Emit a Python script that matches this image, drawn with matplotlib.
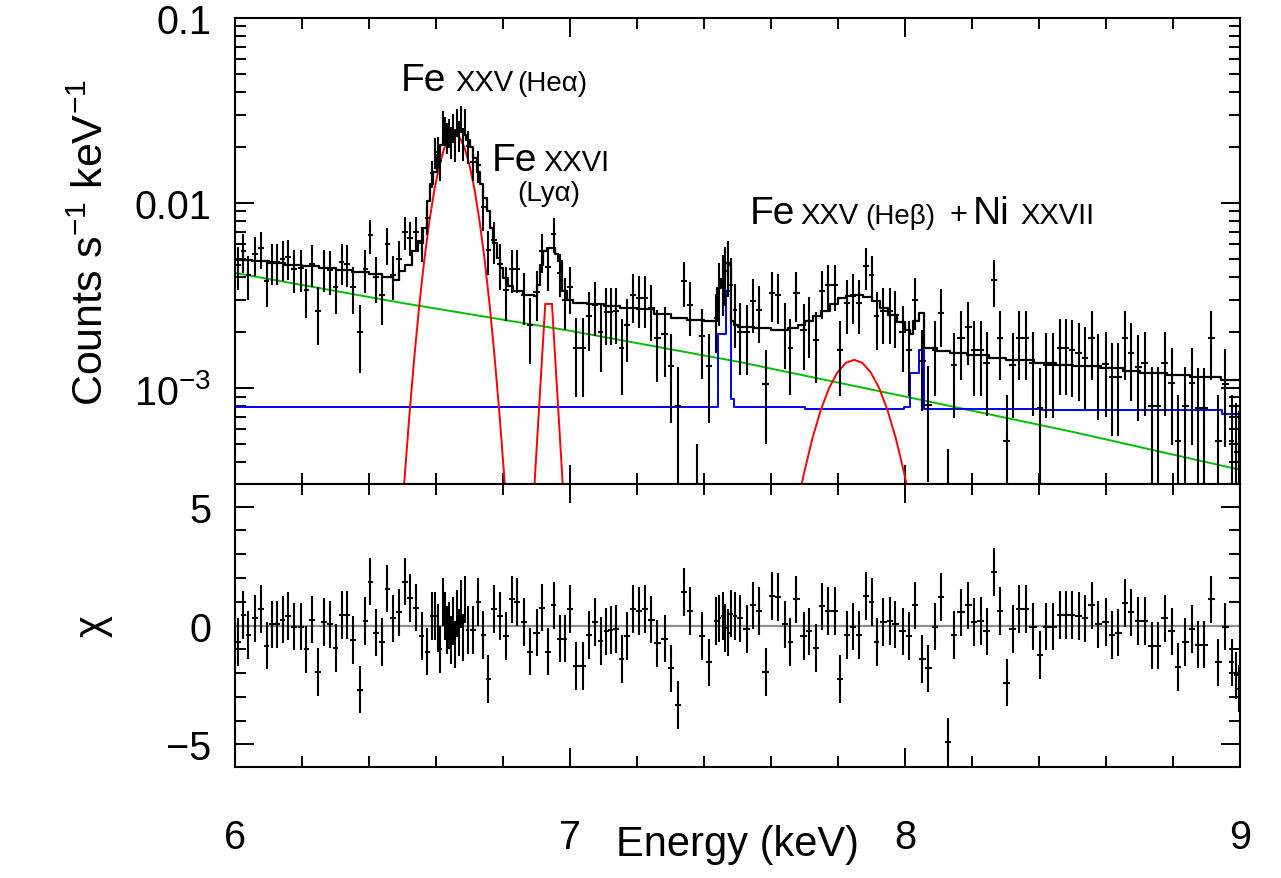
import numpy as np
import matplotlib
matplotlib.use("Agg")
import matplotlib.pyplot as plt
from matplotlib.ticker import MultipleLocator, LogLocator, NullFormatter

plt.rcParams['font.family'] = ['Liberation Sans', 'DejaVu Sans']
plt.rcParams['mathtext.fontset'] = 'custom'
plt.rcParams['mathtext.rm'] = 'Liberation Sans'
plt.rcParams['mathtext.it'] = 'Liberation Sans:italic'

# --- data bins (keV), flux (1e-3 counts/s/keV), flux error, residual chi ---
energy = [6.008, 6.025, 6.040, 6.060, 6.077, 6.094, 6.110, 6.126, 6.142, 6.158,
          6.175, 6.196, 6.213, 6.230, 6.247, 6.265, 6.284, 6.300, 6.318, 6.334,
          6.352, 6.372, 6.389, 6.404, 6.421, 6.438, 6.455, 6.471, 6.490, 6.507,
          6.523, 6.540, 6.557, 6.574, 6.588,
          6.598, 6.606, 6.613, 6.620, 6.626, 6.632, 6.638, 6.644, 6.650, 6.656,
          6.662, 6.668, 6.674, 6.680, 6.687, 6.694,
          6.710, 6.726, 6.741, 6.756, 6.774, 6.791, 6.808, 6.826, 6.842, 6.862,
          6.880, 6.900, 6.917, 6.935, 6.951, 6.969, 6.984, 7.000, 7.019, 7.039,
          7.057, 7.075, 7.091, 7.108, 7.122, 7.137, 7.154, 7.171, 7.188, 7.207,
          7.223, 7.243, 7.261, 7.283, 7.301, 7.322, 7.339, 7.358, 7.378, 7.395,
          7.415, 7.436, 7.446, 7.456, 7.463, 7.473, 7.480, 7.493, 7.507, 7.527,
          7.547, 7.565, 7.584, 7.603, 7.621, 7.641, 7.658, 7.676, 7.697, 7.714,
          7.735, 7.752, 7.771, 7.791, 7.807, 7.827, 7.845, 7.863, 7.884, 7.900,
          7.915, 7.935, 7.954, 7.971, 7.993, 8.013, 8.030, 8.052, 8.070, 8.090,
          8.108, 8.129, 8.146, 8.167, 8.189, 8.205, 8.226, 8.244, 8.266, 8.284,
          8.303, 8.321, 8.341, 8.361, 8.382, 8.403, 8.422, 8.442, 8.464, 8.480,
          8.499, 8.518, 8.537, 8.557, 8.577, 8.599, 8.617, 8.637, 8.656, 8.675,
          8.696, 8.715, 8.736, 8.755, 8.775, 8.796, 8.815, 8.836, 8.856, 8.875,
          8.894, 8.914, 8.935, 8.956, 8.975, 8.988, 8.996]

flux = [4.6, 5.5, 4.1, 5.3, 5.7, 3.8, 4.8, 4.8, 5.0, 5.1,
        4.4, 4.45, 3.4, 4.7, 2.6, 4.45, 4.35, 3.5, 4.8, 4.7,
        3.5, 2.0, 4.4, 6.7, 4.0, 3.2, 6.0, 4.1, 5.0, 7.0,
        6.5, 7.0, 6.1, 8.3, 14.5,
        18.9, 19.1, 16.8, 26.9, 24.8, 22.7, 24.2, 21.6, 25.7, 20.8,
        27.4, 23.2, 28.7, 21.1, 27.5, 20.4,
        16.6, 16.0, 9.5, 5.6, 6.3, 4.7, 3.4, 4.4, 4.4, 3.2,
        2.2, 3.3, 5.5, 4.5, 6.8, 4.2, 3.0, 3.5, 1.64, 1.64,
        2.44, 2.82, 2.02, 2.59, 2.59, 2.6, 1.64, 2.2, 3.19, 3.06,
        3.06, 2.7, 1.86, 1.95, 1.31, 0.80, 3.78, 2.82, 0.22, 1.9,
        1.31, 2.39, 3.47, 3.85, 4.27, 4.65, 3.62, 2.65, 2.02, 2.0,
        2.94, 2.65, 1.05, 3.26, 3.19, 2.07, 1.64, 3.26, 2.05, 2.29,
        1.82, 3.33, 3.62, 3.62, 1.61, 2.9, 3.19, 2.9, 4.55, 4.09,
        2.45, 2.6, 2.6, 2.49, 2.0, 1.61, 3.0, 1.4, 0.81, 1.61,
        2.54, 0.2, 1.34, 1.86, 2.13, 1.61, 1.61, 1.36, 3.85, 1.86,
        0.52, 1.34, 1.86, 1.86, 1.36, 0.78, 1.34, 1.34, 1.64, 1.64,
        1.61, 1.55, 1.45, 1.86, 1.31, 1.35, 1.15, 1.15, 1.86, 1.55,
        1.3, 1.36, 0.80, 0.80, 1.36, 1.07, 0.52, 0.80, 1.07, 0.78,
        0.78, 1.86, 0.52, 1.05, 0.52, 0.45, 0.40]

flux_err = [1.2, 1.3, 1.1, 1.25, 1.3, 1.05, 1.2, 1.2, 1.2, 1.25,
            1.15, 1.15, 1.0, 1.2, 0.9, 1.15, 1.15, 1.0, 1.2, 1.2,
            1.0, 0.8, 1.15, 1.4, 1.1, 1.0, 1.35, 1.1, 1.2, 1.4,
            1.35, 1.4, 1.3, 1.6, 2.4,
            3.6, 3.7, 3.6, 4.5, 4.4, 4.3, 4.4, 4.3, 4.5, 4.2,
            4.7, 4.4, 4.8, 4.2, 4.6, 4.1,
            3.4, 3.1, 2.4, 1.5, 1.6, 1.3, 1.1, 1.15, 1.15, 1.0,
            0.85, 1.0, 1.3, 1.15, 1.45, 1.1, 0.95, 1.0, 0.75, 0.75,
            0.85, 0.9, 0.8, 0.88, 0.88, 0.88, 0.72, 0.82, 0.95, 0.95,
            0.95, 0.9, 0.78, 0.8, 0.66, 0.5, 1.05, 0.9, 0.28, 0.78,
            0.66, 0.85, 1.3, 1.4, 1.5, 1.55, 1.4, 1.0, 0.85, 0.82,
            0.95, 0.9, 0.55, 0.98, 0.97, 0.8, 0.72, 0.98, 0.8, 0.83,
            0.76, 0.98, 1.02, 1.02, 0.7, 0.93, 0.97, 0.93, 1.15, 1.1,
            0.85, 0.87, 0.87, 0.85, 0.78, 0.7, 0.95, 0.65, 0.5, 0.7,
            0.87, 0.27, 0.65, 0.75, 0.8, 0.7, 0.7, 0.65, 1.1, 0.75,
            0.4, 0.65, 0.75, 0.75, 0.65, 0.5, 0.65, 0.65, 0.72, 0.72,
            0.71, 0.7, 0.68, 0.75, 0.64, 0.65, 0.6, 0.6, 0.75, 0.7,
            0.64, 0.65, 0.5, 0.5, 0.65, 0.58, 0.4, 0.5, 0.58, 0.5,
            0.5, 0.75, 0.4, 0.57, 0.4, 0.38, 0.35]

chi = [-0.7, 0.45, -0.4, 0.3, 0.7, -0.85, 0.05, 0.05, 0.25, 0.4,
       -0.05, -0.05, -1.0, 0.25, -1.95, 0.15, 0.05, -0.95, 0.45, 0.45,
       -0.6, -2.7, 0.2, 1.85, -0.3, -0.7, 1.55, 0.3, 0.55, 1.85,
       1.15, 0.75, -0.45, -1.1, 0.4,
       0.4, -0.1, -1.0, 1.0, 0.4, -0.2, 0.0, -0.6, 0.2, -0.8,
       0.5, -0.3, 0.9, -0.5, 1.1, -0.2,
       -0.2, 1.0, -0.4, -2.25, 0.7, 0.4, -0.45, 1.1, 1.0, 0.15,
       -1.1, -0.3, 0.75, -1.1, 0.85, -0.55, -0.55, 0.7, -1.7, -1.7,
       -0.4, 0.15, -0.65, -0.25, -0.2, -0.15, -1.4, -0.45, 0.7, 0.6,
       0.7, 0.25, -0.75, -0.55, -1.8, -3.35, 1.4, 0.6, -7.0, -0.45,
       -1.55, 0.2, 0.3, 0.4, -0.1, -0.3, 0.5, 0.4, 0.3, -0.15,
       0.85, 0.6, -1.95, 1.25, 1.2, 0.05, -0.7, 1.1, -0.45, -0.25,
       -0.95, 0.8, 0.6, 0.6, -2.25, -0.4, -0.05, -0.4, 1.25, 1.0,
       -0.7, 0.15, 0.2, 0.05, -0.25, -0.45, 0.85, -1.4, -1.8, -0.05,
       1.2, -4.9, -0.4, 0.55, 0.85, 0.15, 0.2, -0.25, 2.25, 0.6,
       -2.4, -0.15, 0.7, 0.7, -0.05, -1.25, -0.05, -0.05, 0.45, 0.45,
       0.45, 0.4, 0.3, 0.85, 0.05, 0.15, -0.4, -0.3, 0.95, 0.55,
       0.2, 0.2, -0.85, -0.85, 0.3, -0.25, -1.75, -0.7, -0.15, -0.8,
       -0.8, 1.1, -1.55, -0.05, -1.55, -2.1, -2.65]

# --- model components (keV, 1e-3 counts/s/keV) ---
model_e = [6.000, 6.050, 6.100, 6.150, 6.200, 6.250, 6.300, 6.350, 6.400, 6.440,
           6.470, 6.488, 6.507, 6.527, 6.547, 6.562, 6.572, 6.582, 6.592, 6.602,
           6.612, 6.622, 6.640, 6.660, 6.680, 6.690, 6.700, 6.711, 6.721, 6.731,
           6.741, 6.751, 6.761, 6.771, 6.781, 6.791, 6.801, 6.816, 6.831, 6.861,
           6.891, 6.900, 6.910, 6.920, 6.930, 6.955, 6.965, 6.975, 6.990, 7.010,
           7.050, 7.100, 7.150, 7.200, 7.250, 7.300, 7.350, 7.400, 7.440, 7.450,
           7.462, 7.481, 7.490, 7.500, 7.550, 7.600, 7.650, 7.680, 7.700, 7.725,
           7.750, 7.775, 7.800, 7.825, 7.850, 7.875, 7.900, 7.925, 7.950, 7.975,
           8.000, 8.015, 8.025, 8.043, 8.057, 8.095, 8.135, 8.185, 8.250, 8.300,
           8.384, 8.450, 8.500, 8.583, 8.650, 8.700, 8.782, 8.850, 8.942, 9.000]
model_f = [4.94, 4.85, 4.74, 4.65, 4.55, 4.45, 4.36, 4.25, 4.13, 3.98,
           3.85, 4.27, 4.65, 5.48, 6.21, 7.33, 10.2, 12.6, 14.8, 18.2,
           20.7, 22.4, 24.4, 24.9, 23.4, 22.0, 20.2, 17.5, 14.8, 12.6,
           10.6, 9.0, 7.33, 6.08, 5.05, 4.45, 3.94, 3.55, 3.33, 3.2,
           3.13, 3.62, 4.65, 5.48, 5.72, 5.3, 4.84, 3.33, 3.0, 2.88,
           2.85, 2.77, 2.72, 2.66, 2.52, 2.39, 2.34, 2.31, 3.47, 3.9,
           4.74, 2.29, 2.2, 2.15, 2.11, 2.07, 2.1, 2.2, 2.29, 2.45,
           2.6, 2.85, 3.06, 3.15, 3.19, 3.1, 2.94, 2.72, 2.49, 2.27,
           2.07, 1.95, 2.3, 2.54, 1.64, 1.59, 1.55, 1.51, 1.46, 1.42,
           1.36, 1.33, 1.31, 1.28, 1.24, 1.21, 1.18, 1.15, 1.11, 1.1]

cont_e = [6.0, 6.5, 7.0, 7.5, 8.0, 8.5, 9.0]
cont_f = [4.19, 2.88, 2.04, 1.39, 0.90, 0.58, 0.362]

bkg_e = [6.000, 7.441, 7.466, 7.480, 7.490, 7.700, 7.998, 8.015, 8.043, 8.058, 8.408, 8.945, 9.000]
bkg_f = [0.786, 1.96, 3.33, 0.87, 0.786, 0.775, 0.786, 1.2, 1.61, 0.775, 0.765, 0.726, 0.726]

heA_e = [6.490, 6.505, 6.520, 6.535, 6.550, 6.565, 6.580, 6.595, 6.610, 6.625, 6.640, 6.655,
         6.670, 6.685, 6.700, 6.715, 6.730, 6.745, 6.760, 6.775, 6.790, 6.805, 6.820]
heA_f = [0.123, 0.306, 0.70, 1.46, 2.81, 4.94, 7.96, 11.8, 16.0, 19.9, 22.6, 23.6,
         22.6, 19.9, 16.0, 11.8, 7.96, 4.94, 2.81, 1.46, 0.70, 0.306, 0.123]

lya_e = [6.888, 6.926, 6.946, 6.984]
lya_f = [0.2, 2.85, 2.85, 0.2]

heB_e = [7.678, 7.698, 7.723, 7.748, 7.773, 7.798, 7.823, 7.848, 7.873, 7.898, 7.923,
         7.948, 7.973, 7.998, 8.018]
heB_f = [0.23, 0.344, 0.531, 0.757, 0.998, 1.214, 1.367, 1.422, 1.367, 1.214, 0.998,
         0.757, 0.531, 0.344, 0.23]

e = np.array(energy)
halfw = np.gradient(e) / 2
f = np.array(flux) * 1e-3
ferr = np.array(flux_err) * 1e-3

fig = plt.figure(figsize=(12.81, 8.79), dpi=100)
ax1 = fig.add_axes([0.1835, 0.4482, 0.7845, 0.5302])
ax2 = fig.add_axes([0.1835, 0.1263, 0.7845, 0.3219], sharex=ax1)

ax1.plot(cont_e, np.array(cont_f) * 1e-3, color='#00c000', lw=1.4)
ax1.step(bkg_e, np.array(bkg_f) * 1e-3, where='post', color='#0000ff', lw=1.4)
ax1.plot(heA_e, np.array(heA_f) * 1e-3, color='#ff0000', lw=1.4)
ax1.plot(lya_e, np.array(lya_f) * 1e-3, color='#ff0000', lw=1.4)
ax1.plot(heB_e, np.array(heB_f) * 1e-3, color='#ff0000', lw=1.4)
ax1.step(model_e, np.array(model_f) * 1e-3, where='post', color='black', lw=1.6)
ax1.errorbar(e, f, yerr=ferr, xerr=halfw, fmt='none', ecolor='black', elinewidth=1.5, capsize=0)

ax1.set_yscale('log')
ax1.set_xlim(6, 9)
ax1.set_ylim(3.03e-4, 0.1)
ax1.set_yticks([1e-3, 1e-2, 1e-1], [r'$\mathregular{10^{-3}}$', '0.01', '0.1'])
ax1.yaxis.set_minor_locator(LogLocator(base=10, subs=np.arange(2, 10)))
ax1.yaxis.set_minor_formatter(NullFormatter())
ax1.set_ylabel(r'Counts s$^{-1}$ keV$^{-1}$', fontsize=31)
ax1.yaxis.set_label_coords(-0.122, 0.52)
plt.setp(ax1.get_xticklabels(), visible=False)

ax2.axhline(0, color='#8c8c8c', lw=1.6)
ax2.errorbar(e, chi, yerr=1.0, xerr=halfw, fmt='none', ecolor='black', elinewidth=1.5, capsize=0)
ax2.set_ylim(-5.95, 5.95)
ax2.set_yticks([-5, 0, 5], ['\u22125', '0', '5'])
ax2.yaxis.set_minor_locator(MultipleLocator(1))
ax2.set_xticks([6, 7, 8, 9], ['6', '7', '8', '9'])
ax2.xaxis.set_minor_locator(MultipleLocator(0.2))
ax2.set_xlabel('Energy (keV)', fontsize=30)
ax2.xaxis.set_label_coords(0.5, -0.2)
ax2.set_ylabel('\u03c7', fontsize=30)
ax2.yaxis.set_label_coords(-0.122, 0.5)

for ax in (ax1, ax2):
    for s in ax.spines.values():
        s.set_linewidth(1.5)
    ax.tick_params(which='both', direction='in', top=True, right=True, width=1.4,
                   labelsize=28.5)
    ax.tick_params(which='major', length=14)
    ax.tick_params(which='minor', length=8)
    ax.tick_params(axis='y', pad=17)
ax2.tick_params(axis='x', pad=37)

# line labels
big, mid, small = 28, 21, 20
ax1.text(6.496, 0.0408, 'Fe', fontsize=big)
ax1.text(6.657, 0.0408, 'XXV', fontsize=mid)
ax1.text(6.842, 0.0408, '(He\u03b1)', fontsize=small)
ax1.text(6.767, 0.0151, 'Fe', fontsize=big)
ax1.text(6.919, 0.0151, 'XXVI', fontsize=mid)
ax1.text(6.842, 0.0104, '(Ly\u03b1)', fontsize=small)
ax1.text(7.537, 0.0078, 'Fe', fontsize=big)
ax1.text(7.687, 0.0078, 'XXV', fontsize=mid)
ax1.text(7.881, 0.0078, '(He\u03b2)', fontsize=small)
ax1.text(8.134, 0.0078, '+', fontsize=22)
ax1.text(8.203, 0.0078, 'Ni', fontsize=big)
ax1.text(8.343, 0.0078, 'XXVII', fontsize=mid)

fig.savefig('out.png', dpi=100)
